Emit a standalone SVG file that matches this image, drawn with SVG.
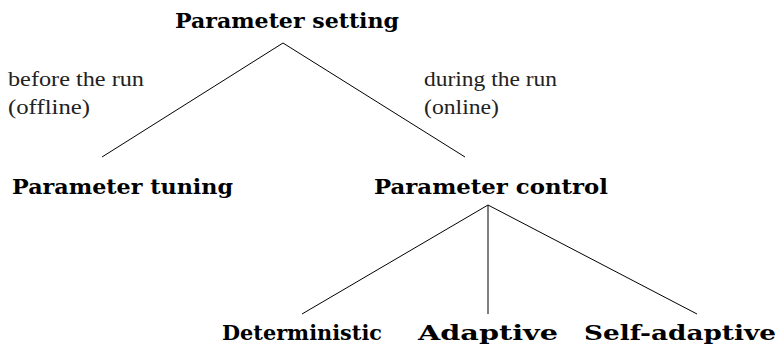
<svg xmlns="http://www.w3.org/2000/svg" width="778" height="349" viewBox="0 0 778 349">
  <style>
    .node { font-family: 'DejaVu Serif', serif; font-weight: bold; font-size: 21px; fill: #000; }
    .label { font-family: 'Liberation Serif', 'DejaVu Serif', serif; font-size: 20px; fill: #222; }
    .edge { stroke: #000; stroke-width: 1; fill: none; }
  </style>
  <rect width="778" height="349" fill="#fff"/>

  <g id="connectors">
    <line class="edge" x1="283" y1="43" x2="102" y2="157"/>
    <line class="edge" x1="283" y1="43" x2="465" y2="157"/>
    <line class="edge" x1="488" y1="205" x2="302" y2="314"/>
    <line class="edge" x1="488" y1="205" x2="488" y2="314"/>
    <line class="edge" x1="488" y1="205" x2="697" y2="314"/>
  </g>

  <g id="edge-labels">
    <text class="label" x="8" y="86" textLength="136" lengthAdjust="spacingAndGlyphs">before the run</text>
    <text class="label" x="8" y="114" textLength="82" lengthAdjust="spacingAndGlyphs">(offline)</text>
    <text class="label" x="424" y="86" textLength="133" lengthAdjust="spacingAndGlyphs">during the run</text>
    <text class="label" x="424" y="114" textLength="75" lengthAdjust="spacingAndGlyphs">(online)</text>
  </g>

  <g id="parameter-setting">
    <text class="node" x="175" y="28" textLength="224" lengthAdjust="spacingAndGlyphs">Parameter setting</text>
  </g>
  <g id="parameter-tuning">
    <text class="node" x="12" y="194" textLength="221" lengthAdjust="spacingAndGlyphs">Parameter tuning</text>
  </g>
  <g id="parameter-control">
    <text class="node" x="374" y="194" textLength="234" lengthAdjust="spacingAndGlyphs">Parameter control</text>
  </g>
  <g id="deterministic">
    <text class="node" x="222" y="340" textLength="160" lengthAdjust="spacingAndGlyphs">Deterministic</text>
  </g>
  <g id="adaptive">
    <text class="node" x="418" y="340" textLength="140" lengthAdjust="spacingAndGlyphs">Adaptive</text>
  </g>
  <g id="self-adaptive">
    <text class="node" x="584" y="340" textLength="192" lengthAdjust="spacingAndGlyphs">Self-adaptive</text>
  </g>
</svg>
